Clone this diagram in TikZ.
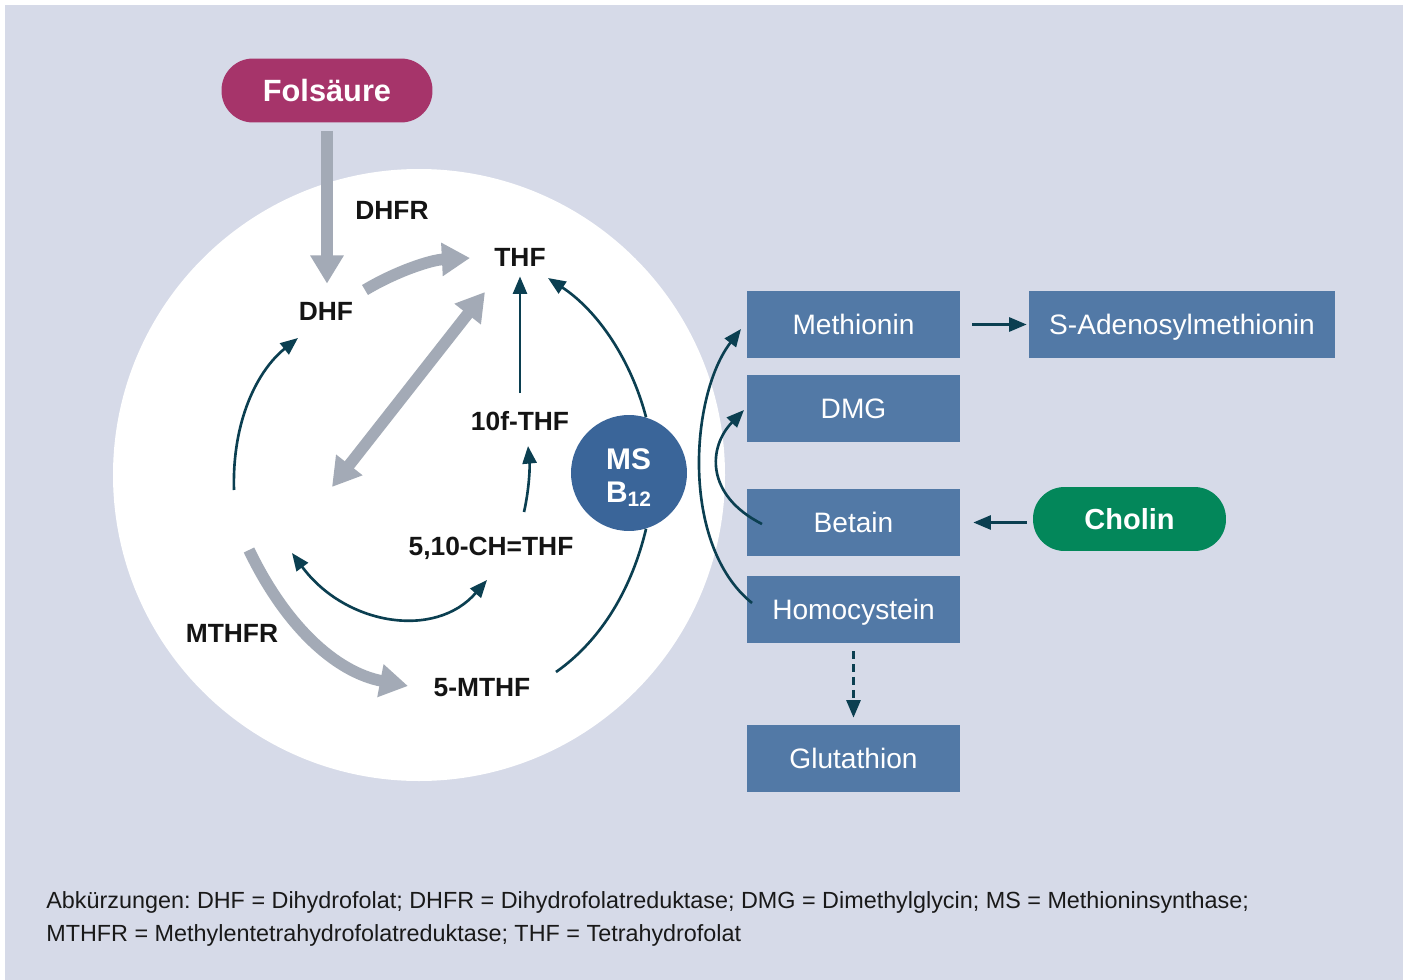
\documentclass[tikz,border=0pt]{standalone}
\usepackage{fontspec}
\setmainfont{Liberation Sans}
\usetikzlibrary{arrows.meta}
\frenchspacing
\definecolor{bglav}{HTML}{D6DAE8}
\definecolor{boxblue}{HTML}{5279A6}
\definecolor{msblue}{HTML}{3A6599}
\definecolor{folpink}{HTML}{A6346A}
\definecolor{cholgreen}{HTML}{03875A}
\definecolor{darkpath}{HTML}{0B3F51}
\definecolor{graypath}{HTML}{A3AAB6}
\tikzset{
    fattip/.tip={Triangle[length=16pt,width=18pt]},
    slimtip/.tip={Triangle[length=10pt,width=8pt]},
}

\begin{document}
\begin{tikzpicture}[x=0.02cm,y=0.02cm,
    box/.style={fill=boxblue,text=white,minimum width=4.26cm,minimum height=1.34cm,inner sep=0pt,text depth=0pt,font=\fontsize{16}{19}\selectfont},
    pill/.style={fill=#1,text=white,rounded corners=0.63cm,minimum height=1.28cm,inner sep=0pt},
    lbl/.style={text=black!92,inner sep=0pt,text depth=0pt,font=\bfseries\fontsize{15}{18}\selectfont},
    fatarrow/.style={graypath,line width=6.6pt,-fattip},
    darkline/.style={darkpath,line width=1.5pt,-slimtip},
]
    % background and cell
    \fill[white] (0,0) rectangle (1407,-980);
    \fill[bglav] (5,-5) rectangle (1403,-980);
    \fill[white] (419,-475) circle[radius=306];

    % sources
    \node[pill=folpink,minimum width=4.22cm,font=\bfseries\fontsize{17.5}{20}\selectfont] (folsaeure) at (327,-90.5) {Folsäure};
    \node[pill=cholgreen,minimum width=3.86cm,font=\bfseries\fontsize{16.5}{19}\selectfont] (cholin) at (1129.5,-519) {Cholin};

    % folate cycle
    \node[lbl] (dhfr) at (392,-210) {DHFR};
    \node[lbl] (thf) at (520,-257) {THF};
    \node[lbl] (dhf) at (326,-311) {DHF};
    \node[lbl] (tenf) at (520,-421) {10f-THF};
    \node[lbl] (methenyl) at (491,-546) {5,10-CH=THF};
    \node[lbl] (mthfr) at (232,-633) {MTHFR};
    \node[lbl] (fivemthf) at (482,-687) {5-MTHF};
    \node[circle,fill=msblue,minimum size=2.32cm,inner sep=0pt,
        label={[yshift=-0.1cm,text=white,align=left,font=\bfseries\fontsize{17}{18.5}\selectfont]center:{MS\\B\textsubscript{12}}}]
        (ms) at (629,-473) {};

    % methionine side
    \node[box] (methionin) at (853.5,-324.5) {Methionin};
    \node[box,minimum width=6.12cm] (sam) at (1182,-324.5) {S-Adenosylmethionin};
    \node[box] (dmg) at (853.5,-408.5) {DMG};
    \node[box] (betain) at (853.5,-522.5) {Betain};
    \node[box] (homocystein) at (853.5,-609.5) {Homocystein};
    \node[box] (glutathion) at (853.5,-758.5) {Glutathion};

    % free ends of the curved connectors
    \coordinate (dhf-r) at (365,-290);
    \coordinate (thf-l) at (470,-258);
    \coordinate (cyc-a) at (332,-487);
    \coordinate (thf-b) at (485,-292);
    \coordinate (mthfr-a) at (249,-550);
    \coordinate (mthf-l) at (408,-686);
    \coordinate (loop-a) at (234,-490);
    \coordinate (dhf-b) at (298,-338);
    \coordinate (ch-up) at (524,-512);
    \coordinate (tenf-b) at (528,-446);
    \coordinate (ch-l) at (292,-553);
    \coordinate (ch-r) at (487,-580);
    \coordinate (mthf-r) at (556,-672);
    \coordinate (thf-r) at (548,-278);
    \coordinate (hcy-l) at (752,-603);
    \coordinate (met-l) at (741,-329);
    \coordinate (bet-l) at (762,-524);
    \coordinate (dmg-l) at (744,-410);

    % gray enzyme steps
    \draw[fatarrow,shorten <=0.16cm,shorten >=0.36cm] (folsaeure.south) -- (folsaeure.south |- dhf.north);
    \draw[fatarrow] (dhf-r) .. controls (395,-272) and (430,-260) .. (thf-l);
    \draw[fatarrow,fattip-fattip] (cyc-a) -- (thf-b);
    \draw[fatarrow] (mthfr-a) .. controls (285,-625) and (335,-672) .. (mthf-l);

    % dark connectors
    \draw[darkline] (loop-a) .. controls (232,-420) and (258,-370) .. (dhf-b);
    \draw[darkline,shorten <=0.36cm,shorten >=0.2cm] (tenf.north) -- (thf.south);
    \draw[darkline] (ch-up) .. controls (529,-490) and (530,-468) .. (tenf-b);
    \draw[darkline,slimtip-slimtip] (ch-l) .. controls (345,-625) and (435,-640) .. (ch-r);
    \draw[darkline,-] (mthf-r) .. controls (603,-639) and (632.5,-586) .. (ms.-73);
    \draw[darkline] (ms.73) .. controls (631,-360) and (598,-311) .. (thf-r);
    \draw[darkline] (hcy-l) .. controls (680,-545) and (690,-395) .. (met-l);
    \draw[darkline] (bet-l) .. controls (705,-495) and (708,-447) .. (dmg-l);
    \draw[darkline,shorten <=0.24cm,shorten >=0.04cm] (methionin.east) -- (sam.west);
    \draw[darkline,shorten <=0.12cm,shorten >=0.26cm] (cholin.west |- betain.east) -- (betain.east);
    \draw[darkline,dash pattern=on 4.5pt off 2.8pt,shorten <=0.16cm,shorten >=0.14cm] (homocystein.south) -- (glutathion.north);

    % abbreviations
    \node[anchor=north west,align=left,inner sep=0pt,text=black!90,font=\fontsize{13.3}{18.8}\selectfont] (notes) at (46,-891.5)
        {Abkürzungen: DHF = Dihydrofolat; DHFR = Dihydrofolatreduktase; DMG = Dimethylglycin; MS = Methioninsynthase;\\
         MTHFR = Methylentetrahydrofolatreduktase; THF = Tetrahydrofolat};
\end{tikzpicture}
\end{document}
